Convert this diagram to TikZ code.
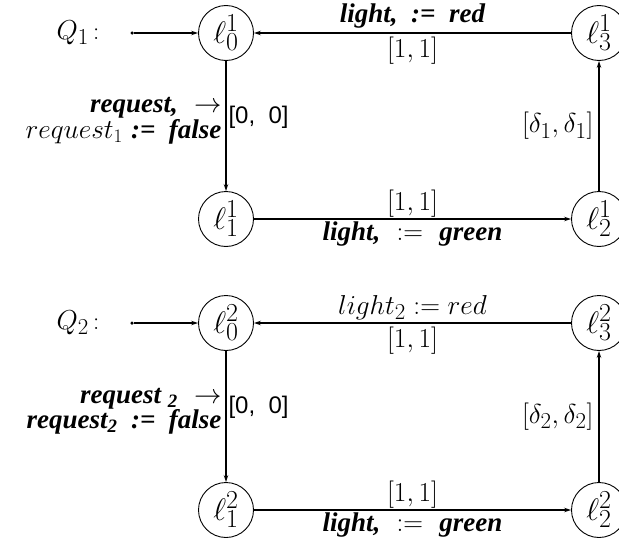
\documentclass[tikz,border=0pt]{standalone}
\usepackage{graphicx}
\usepackage{fontspec}
\usetikzlibrary{arrows.meta}
\newfontfamily\tbi{Liberation Serif}
\newfontfamily\hsans{Liberation Sans}
\newcommand\BIt[1]{{\tbi\bfseries\itshape #1}}
\newcommand\Mth[1]{\scalebox{1.1}{$#1$}}
\newcommand\Loc[1]{\scalebox{1.25}{$#1$}}
\begin{document}
\begin{tikzpicture}[x=1pt,y=-1pt,
  state/.style={draw, circle, line width=0.9pt, minimum size=55pt, inner sep=0pt, font=\fontsize{24.88}{30}\selectfont},
  edge/.style={line width=1.1pt, -{Stealth[length=7pt,width=4.5pt]}},
  lbl/.style={font=\fontsize{24.88}{22}\selectfont, inner sep=2pt},
  lbll/.style={lbl, font=\fontsize{27}{21}\selectfont, align=right, inner sep=1pt},
  zlbl/.style={lbl, font=\hsans\fontsize{24}{22}\selectfont},
  btxt/.style={lbl, font=\fontsize{27}{22}\selectfont},
  dot/.style={fill, circle, inner sep=0pt, minimum size=3.5pt},
]
\useasboundingbox (0,0) rectangle (619,546);
% ---------------- Q1
\node[state] (a0) at (226,33) {\Loc{\ell^1_0}};
\node[state] (a3) at (599,33) {\Loc{\ell^1_3}};
\node[state] (a1) at (226,219) {\Loc{\ell^1_1}};
\node[state] (a2) at (599,219) {\Loc{\ell^1_2}};
\node[lbl] (q1) at (78,33) {\Mth{Q_1}\,:};
\node[dot] (i1) at (132,33) {};
\draw[edge] (i1) -- (a0);
\draw[edge] (a3) -- (a0)
  node[btxt, midway, above, yshift=2pt] (t1) {\BIt{light,\ \ :=\ \ red}}
  node[lbl, midway, below, inner sep=3pt] (c1) {\Mth{[1,1]}};
\draw[edge] (a0) -- (a1)
  node[lbll, pos=0.46, left, xshift=-3pt] (r1) {\BIt{request,}\ \ \Mth{\rightarrow}\hspace{9pt}\\\Mth{request_1}\ \BIt{:=\ \ false}}
  node[zlbl, pos=0.43, right] (z1) {[0,\ \ 0]};
\draw[edge] (a1) -- (a2)
  node[lbl, midway, above, inner sep=1pt] (c2) {\Mth{[1,1]}}
  node[btxt, midway, below, inner sep=1pt, yshift=-1pt] (g1) {\BIt{light,}\ \ \Mth{:=}\ \ \BIt{green}};
\draw[edge] (a2) -- (a3)
  node[lbl, midway, left, xshift=-3pt] (d1) {\Mth{[\delta_1,\delta_1]}};
% ---------------- Q2
\node[state] (b0) at (226,323) {\Loc{\ell^2_0}};
\node[state] (b3) at (599,323) {\Loc{\ell^2_3}};
\node[state] (b1) at (226,510) {\Loc{\ell^2_1}};
\node[state] (b2) at (599,510) {\Loc{\ell^2_2}};
\node[lbl] (q2) at (78,323) {\Mth{Q_2}\,:};
\node[dot] (i2) at (132,323) {};
\draw[edge] (i2) -- (b0);
\draw[edge] (b3) -- (b0)
  node[lbl, midway, above, yshift=1pt] (t2) {\Mth{light_2 := red}}
  node[lbl, midway, below, inner sep=3pt] (c3) {\Mth{[1,1]}};
\draw[edge] (b0) -- (b1)
  node[lbll, pos=0.46, left, xshift=-3pt] (r2) {\BIt{request \textsubscript{2}}\ \ \Mth{\rightarrow}\hspace{9pt}\\\BIt{request\textsubscript{2}\ \ :=\ \ false}}
  node[zlbl, pos=0.43, right] (z2) {[0,\ \ 0]};
\draw[edge] (b1) -- (b2)
  node[lbl, midway, above, inner sep=1pt] (c4) {\Mth{[1,1]}}
  node[btxt, midway, below, inner sep=1pt, yshift=-1pt] (g2) {\BIt{light,}\ \ \Mth{:=}\ \ \BIt{green}};
\draw[edge] (b2) -- (b3)
  node[lbl, midway, left, xshift=-3pt] (d2) {\Mth{[\delta_2,\delta_2]}};
\end{tikzpicture}
\end{document}
